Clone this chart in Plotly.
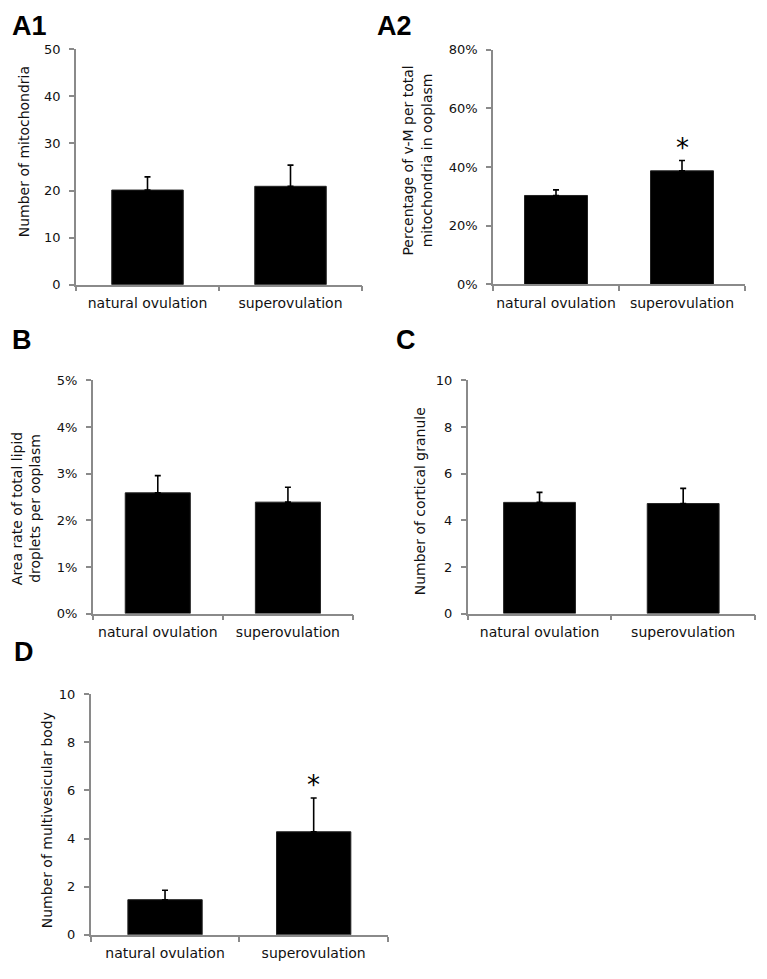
import plotly.graph_objects as go

W, H = 767, 979

categories = ["natural ovulation", "superovulation"]

# Panel values (mean) and upper error (SD/SE)
a1_mean = [20.1, 20.9]
a1_err = [2.8, 4.5]
a2_mean = [0.303, 0.387]
a2_err = [0.019, 0.035]
b_mean = [0.0259, 0.0239]
b_err = [0.0037, 0.0032]
c_mean = [4.77, 4.72]
c_err = [0.43, 0.65]
d_mean = [1.46, 4.28]
d_err = [0.39, 1.40]

a1_ticks = [0, 10, 20, 30, 40, 50]
a2_ticks = [0, 0.2, 0.4, 0.6, 0.8]
b_ticks = [0, 0.01, 0.02, 0.03, 0.04, 0.05]
c_ticks = [0, 2, 4, 6, 8, 10]
d_ticks = [0, 2, 4, 6, 8, 10]

panel_labels = ["A1", "A2", "B", "C", "D"]
y_titles = [
    "Number of mitochondria",
    "Percentage of v-M per total<br>mitochondria in ooplasm",
    "Area rate of total lipid<br>droplets per ooplasm",
    "Number of cortical granule",
    "Number of multivesicular body",
]
star_panels = [1, 4]  # A2 and D (significant)

# plot-area pixel boxes (x0, x1, ytop, ybottom)
boxes = [
    (76, 362, 43, 282),
    (493, 745, 43.3, 281.7),
    (92.7, 353, 379.3, 616),
    (467.7, 755, 379.3, 616),
    (90.7, 388, 697.7, 942.3),
]
label_pos = [(10, 19), (375, 19), (10, 338), (394, 338), (12, 655)]
title_pos = [(23.5, 147), (417, 156), (26, 510), (420, 502), (47, 826)]

means = [a1_mean, a2_mean, b_mean, c_mean, d_mean]
errs = [a1_err, a2_err, b_err, c_err, d_err]
ticks = [a1_ticks, a2_ticks, b_ticks, c_ticks, d_ticks]
fmts = ["d", ".0%", ".0%", "d", "d"]

FONT = "DejaVu Sans"
AX = "#8a8a8a"

fig = go.Figure()
layout = dict(
    width=W, height=H,
    margin=dict(l=0, r=0, t=0, b=0),
    paper_bgcolor="white", plot_bgcolor="white",
    showlegend=False,
    font=dict(family=FONT, size=13, color="#111"),
    bargap=0.5,
)
annotations = []

for i in range(5):
    n = "" if i == 0 else str(i + 1)
    x0, x1, yt, yb = boxes[i]
    fig.add_trace(go.Bar(
        x=categories, y=means[i],
        xaxis="x" + n, yaxis="y" + n,
        width=0.5,
        marker=dict(color="black", line=dict(color="#222", width=1)),
        error_y=dict(type="data", symmetric=False, array=errs[i],
                     arrayminus=[0] * len(errs[i]),
                     color="black", thickness=1.6, width=3),
    ))
    layout["xaxis" + n] = dict(
        domain=[x0 / W, x1 / W], anchor="y" + n,
        type="category", range=[-0.5, 1.5],
        showline=True, linecolor=AX, linewidth=1.5,
        ticks="outside", tickson="boundaries", ticklen=5,
        tickcolor=AX, tickwidth=1.5, tickangle=0, ticklabelstandoff=5,
        showgrid=False, zeroline=False,
        tickfont=dict(family=FONT, size=14, color="#111"),
    )
    tv = ticks[i]
    layout["yaxis" + n] = dict(
        domain=[1 - yb / H, 1 - yt / H], anchor="x" + n,
        range=[tv[0], tv[-1]], tickvals=tv, tickformat=fmts[i],
        showline=True, linecolor=AX, linewidth=1.5,
        ticks="outside", ticklen=5, tickcolor=AX, tickwidth=1.5,
        ticklabelstandoff=6,
        showgrid=False, zeroline=False,
        tickfont=dict(family=FONT, size=13, color="#111"),
    )
    lx, ly = label_pos[i]
    annotations.append(dict(
        text="<b>%s</b>" % panel_labels[i], xref="paper", yref="paper",
        x=lx / W, y=1 - ly / H, xanchor="left", yanchor="middle",
        showarrow=False, font=dict(family="Liberation Sans", size=27, color="black"),
    ))
    tx, ty = title_pos[i]
    annotations.append(dict(
        text=y_titles[i], xref="paper", yref="paper",
        x=tx / W, y=1 - ty / H, xanchor="center", yanchor="middle",
        textangle=-90, showarrow=False,
        font=dict(family=FONT, size=14, color="#111"),
    ))

for i in star_panels:
    n = "" if i == 0 else str(i + 1)
    annotations.append(dict(
        text="*", xref="x" + n, yref="y" + n,
        x=categories[1], y=means[i][1] + errs[i][1],
        xanchor="center", yanchor="bottom", yshift=-4,
        showarrow=False, font=dict(family=FONT, size=26, color="black"),
    ))

layout["annotations"] = annotations
fig.update_layout(**layout)
fig.write_html("out.html", config={"displayModeBar": False},
               post_script="document.body.style.margin='0';document.body.style.overflow='hidden';")
